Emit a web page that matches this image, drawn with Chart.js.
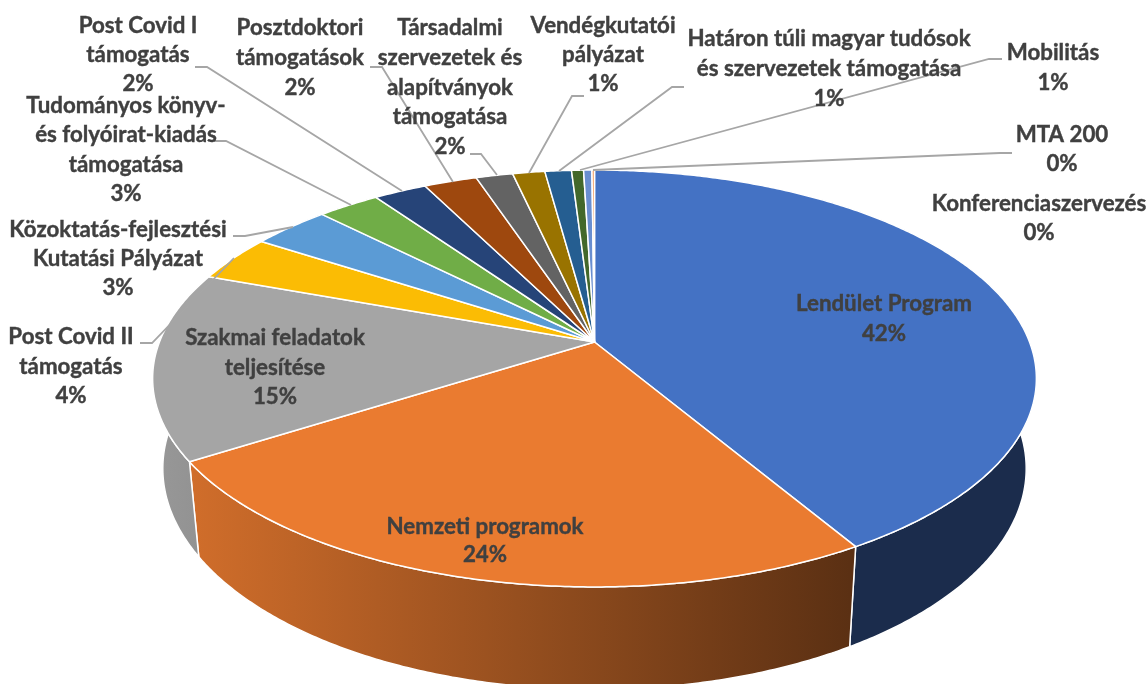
<!DOCTYPE html>
<html lang="hu">
<head>
<meta charset="utf-8">
<title>Támogatások megoszlása</title>
<script src="https://cdn.jsdelivr.net/npm/chart.js@4.4.1/dist/chart.umd.js"></script>
<style>
    html, body { margin: 0; padding: 0; background: #ffffff; }
    canvas { display: block; }
</style>
</head>
<body>
<canvas id="pieChart" width="1148" height="684"></canvas>
<script>
// Data
const categories = [
    'Lendület Program',
    'Nemzeti programok',
    'Szakmai feladatok\nteljesítése',
    'Post Covid II\ntámogatás',
    'Közoktatás-fejlesztési\nKutatási Pályázat',
    'Tudományos könyv-\nés folyóirat-kiadás\ntámogatása',
    'Post Covid I\ntámogatás',
    'Posztdoktori\ntámogatások',
    'Társadalmi\nszervezetek és\nalapítványok\ntámogatása',
    'Vendégkutatói\npályázat',
    'Határon túli magyar tudósok\nés szervezetek támogatása',
    'Mobilitás',
    'MTA 200',
    'Konferenciaszervezés'
];
const shares = [41.5, 24.5, 14.6, 3.6, 3.4, 2.7, 2.3, 2.3, 1.6, 1.4, 1.15, 0.52, 0.36, 0.11];
const shareLabels = ['42%', '24%', '15%', '4%', '3%', '3%', '2%', '2%', '2%', '1%', '1%', '1%', '0%', '0%'];
const sliceColors = ['#4472C4', '#EA7B30', '#A5A5A5', '#FBBC04', '#5B9BD5', '#70AD47', '#264478',
    '#9E480E', '#636363', '#997300', '#255E91', '#43682B', '#698ED0', '#F1975A'];

// Label layout: centre x, y of the first line
const labelAnchors = [
    [884, 304], [485, 527], [275, 338], [71, 337], [118, 230], [126, 106], [138, 26],
    [300, 28], [450, 28], [603, 26], [829, 39], [1053, 53], [1062, 135], [1039, 204]
];
const labelLineHeight = [30, 28, 29.5, 29.5, 29, 29.3, 29, 30, 29.7, 29, 30, 30, 29, 29];

// Leader lines, label end first
const leaderLines = [
    [[140, 343], [152, 343], [234, 258]],
    [[233, 236], [245, 236], [293, 227]],
    [[214, 141], [226, 141], [351, 205]],
    [[195, 67], [207, 67], [402, 191]],
    [[370, 67], [382, 67], [453, 182]],
    [[470, 154], [481, 154], [497, 175]],
    [[584, 96], [572, 96], [529, 173]],
    [[684, 87], [672, 87], [559, 171]],
    [[1002, 59], [989, 59], [580, 170]],
    [[1012, 153], [1000, 153], [593, 170]]
];

// 3D look: perspective of the top face and the drop to the bottom rim
const PERSPECTIVE = 0.175;
const STRETCH_X = 436 / 342;
const STRETCH_Y = 202.5 / 342;
const BOTTOM_SCALE = 0.977;
const DEG = Math.PI / 180;

function project(arc, angle) {
    const u = Math.cos(angle);
    const v = Math.sin(angle);
    const w = 1 - PERSPECTIVE * v;
    return {
        x: arc.x + STRETCH_X * arc.outerRadius * u / w,
        y: arc.y + STRETCH_Y * arc.outerRadius * v / w
    };
}

function dropToBottom(arc, point) {
    return {
        x: arc.x + (point.x - arc.x) * BOTTOM_SCALE,
        y: point.y + 90 + (point.y - 378) * 0.06
    };
}

function rimPoints(arc) {
    const points = [];
    const steps = Math.max(2, Math.ceil((arc.endAngle - arc.startAngle) / (0.5 * DEG)));
    for (let i = 0; i <= steps; i++) {
        points.push(project(arc, arc.startAngle + (arc.endAngle - arc.startAngle) * i / steps));
    }
    return points;
}

function shade(hex, factor) {
    const n = parseInt(hex.slice(1), 16);
    const r = Math.round(((n >> 16) & 255) * factor);
    const g = Math.round(((n >> 8) & 255) * factor);
    const b = Math.round((n & 255) * factor);
    return `rgb(${r}, ${g}, ${b})`;
}

function tracePath(ctx, points) {
    ctx.beginPath();
    points.forEach((p, i) => (i ? ctx.lineTo(p.x, p.y) : ctx.moveTo(p.x, p.y)));
    ctx.closePath();
}

// Draws the library's arcs as a tilted 3D pie
const pie3d = {
    id: 'pie3d',
    beforeDatasetsDraw(chart) {
        const ctx = chart.ctx;
        const arcs = chart.getDatasetMeta(0).data;
        ctx.save();
        ctx.lineJoin = 'round';

        // Side walls first, the top face covers the hidden parts
        arcs.forEach((arc) => {
            const rim = rimPoints(arc);
            const bottom = rim.map((p) => dropToBottom(arc, p)).reverse();
            const gradient = ctx.createLinearGradient(153, 0, 1035, 0);
            gradient.addColorStop(0, shade(arc.options.backgroundColor, 0.92));
            gradient.addColorStop(0.79, shade(arc.options.backgroundColor, 0.39));
            gradient.addColorStop(1, shade(arc.options.backgroundColor, 0.39));
            tracePath(ctx, rim.concat(bottom));
            ctx.fillStyle = gradient;
            ctx.fill();
            ctx.strokeStyle = arc.options.borderColor;
            ctx.lineWidth = arc.options.borderWidth;
            ctx.stroke();
        });

        // Top face
        arcs.forEach((arc) => {
            tracePath(ctx, [{ x: arc.x, y: arc.y }].concat(rimPoints(arc)));
            ctx.fillStyle = arc.options.backgroundColor;
            ctx.fill();
            ctx.strokeStyle = arc.options.borderColor;
            ctx.lineWidth = arc.options.borderWidth;
            ctx.stroke();
        });

        ctx.restore();
        return false;
    },
    afterDraw(chart) {
        const ctx = chart.ctx;
        ctx.save();

        // Leader lines
        ctx.strokeStyle = '#A6A6A6';
        ctx.lineWidth = 1.8;
        leaderLines.forEach((line) => {
            ctx.beginPath();
            line.forEach(([x, y], i) => (i ? ctx.lineTo(x, y) : ctx.moveTo(x, y)));
            ctx.stroke();
        });

        // Labels
        ctx.fillStyle = '#404040';
        ctx.strokeStyle = '#404040';
        ctx.lineWidth = 0.4;
        ctx.font = 'bold 22.3px Lato';
        ctx.textAlign = 'center';
        ctx.textBaseline = 'middle';
        categories.forEach((name, i) => {
            const lines = name.split('\n').concat(shareLabels[i]);
            lines.forEach((text, j) => {
                const y = labelAnchors[i][1] + j * labelLineHeight[i];
                ctx.fillText(text, labelAnchors[i][0], y);
                ctx.strokeText(text, labelAnchors[i][0], y);
            });
        });

        ctx.restore();
    }
};

new Chart(document.getElementById('pieChart'), {
    type: 'pie',
    data: {
        labels: categories,
        datasets: [{
            data: shares,
            backgroundColor: sliceColors,
            borderColor: '#ffffff',
            borderWidth: 1.5
        }]
    },
    options: {
        responsive: false,
        animation: false,
        layout: { padding: { left: 41 } },
        plugins: {
            legend: { display: false },
            tooltip: { enabled: false }
        }
    },
    plugins: [pie3d]
});
</script>
</body>
</html>
